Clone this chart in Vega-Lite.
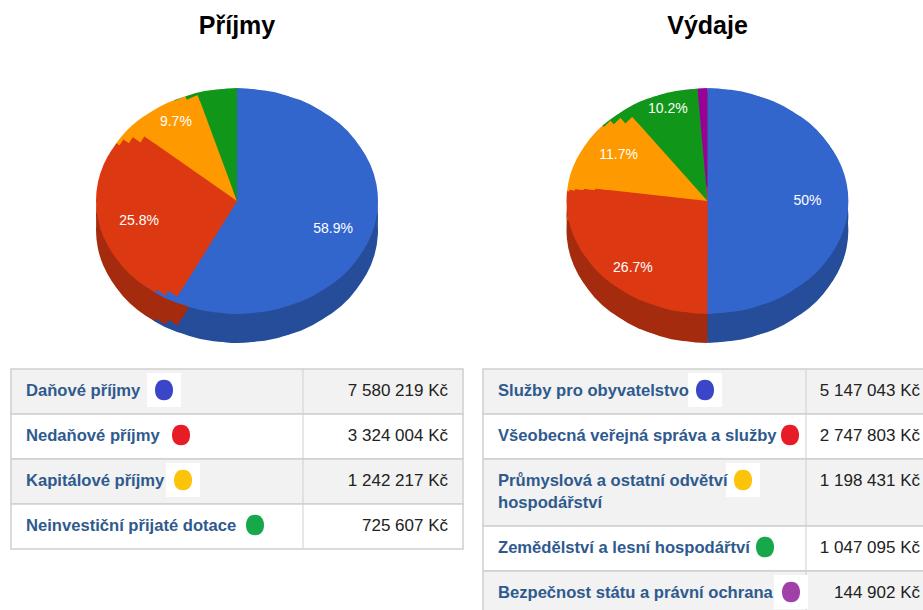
{
"$schema":"https://vega.github.io/schema/vega-lite/v6.json",
"padding":{"left":10,"top":14,"right":0,"bottom":0},
"background":"white",
"config":{"view":{"stroke":null},"title":{"font":"Liberation Sans","fontWeight":"bold","fontSize":25,"color":"#000","anchor":"middle","offset":12}},
"datasets":{
"prijmy":[
{"row":1,"rowEnd":2,"name":"Daňové příjmy","amount":7580219,"amountText":"7 580 219 Kč","share":"58.9%"},
{"row":2,"rowEnd":3,"name":"Nedaňové příjmy","amount":3324004,"amountText":"3 324 004 Kč","share":"25.8%"},
{"row":3,"rowEnd":4,"name":"Kapitálové příjmy","amount":1242217,"amountText":"1 242 217 Kč","share":"9.7%"},
{"row":4,"rowEnd":5,"name":"Neinvestiční přijaté dotace","amount":725607,"amountText":"725 607 Kč","share":""}
],
"vydaje":[
{"row":1,"rowEnd":2,"name":"Služby pro obyvatelstvo","amount":5147043,"amountText":"5 147 043 Kč","share":"50%"},
{"row":2,"rowEnd":3,"name":"Všeobecná veřejná správa a služby","amount":2747803,"amountText":"2 747 803 Kč","share":"26.7%"},
{"row":3,"rowEnd":4,"name":"Průmyslová a ostatní odvětví\nhospodářství","amount":1198431,"amountText":"1 198 431 Kč","share":"11.7%"},
{"row":4,"rowEnd":5,"name":"Zemědělství a lesní hospodářtví","amount":1047095,"amountText":"1 047 095 Kč","share":"10.2%"},
{"row":5,"rowEnd":6,"name":"Bezpečnost státu a právní ochrana","amount":144902,"amountText":"144 902 Kč","share":""}
]},
"spacing":17,
"vconcat":[
{"spacing":18,"hconcat":[
{"title":"Příjmy","width":452,"height":300,"data":{"name":"prijmy"},
"encoding":{"theta":{"field":"amount","type":"quantitative","stack":true},"order":{"field":"row","type":"ordinal"}},
"resolve":{"scale":{"color":"independent"}},
"layer":[
{"encoding":{"color":{"field":"row","type":"nominal","legend":null,"scale":{"domain":[1,2,3,4,5],"range":["#264d99","#a52b0e","#bf7300","#0c7012","#730073"]}}},
"layer":[
{"mark":{"type":"arc","radius":90.6,"xOffset":-50.4,"yOffset":15}},{"mark":{"type":"arc","radius":90.6,"xOffset":50.4,"yOffset":15}},
{"mark":{"type":"arc","radius":101,"xOffset":-37.8,"yOffset":15}},{"mark":{"type":"arc","radius":101,"xOffset":37.8,"yOffset":15}},
{"mark":{"type":"arc","radius":107.8,"xOffset":-25.2,"yOffset":15}},{"mark":{"type":"arc","radius":107.8,"xOffset":25.2,"yOffset":15}},
{"mark":{"type":"arc","radius":111.7,"xOffset":-12.6,"yOffset":15}},{"mark":{"type":"arc","radius":111.7,"xOffset":12.6,"yOffset":15}},
{"mark":{"type":"arc","radius":113,"yOffset":15}},
{"mark":{"type":"arc","radius":90.6,"xOffset":-50.4,"yOffset":29}},{"mark":{"type":"arc","radius":90.6,"xOffset":50.4,"yOffset":29}},
{"mark":{"type":"arc","radius":101,"xOffset":-37.8,"yOffset":29}},{"mark":{"type":"arc","radius":101,"xOffset":37.8,"yOffset":29}},
{"mark":{"type":"arc","radius":107.8,"xOffset":-25.2,"yOffset":29}},{"mark":{"type":"arc","radius":107.8,"xOffset":25.2,"yOffset":29}},
{"mark":{"type":"arc","radius":111.7,"xOffset":-12.6,"yOffset":29}},{"mark":{"type":"arc","radius":111.7,"xOffset":12.6,"yOffset":29}},
{"mark":{"type":"arc","radius":113,"yOffset":29}}
]},
{"encoding":{"color":{"field":"row","type":"nominal","legend":null,"scale":{"domain":[1,2,3,4,5],"range":["#3366cc","#dc3912","#ff9900","#109618","#990099"]}}},
"layer":[
{"mark":{"type":"arc","radius":90.6,"xOffset":-50.4}},{"mark":{"type":"arc","radius":90.6,"xOffset":50.4}},
{"mark":{"type":"arc","radius":101,"xOffset":-37.8}},{"mark":{"type":"arc","radius":101,"xOffset":37.8}},
{"mark":{"type":"arc","radius":107.8,"xOffset":-25.2}},{"mark":{"type":"arc","radius":107.8,"xOffset":25.2}},
{"mark":{"type":"arc","radius":111.7,"xOffset":-12.6}},{"mark":{"type":"arc","radius":111.7,"xOffset":12.6}},
{"mark":{"type":"arc","radius":113}}
]},
{"mark":{"type":"text","radius":100,"color":"#fff","font":"Liberation Sans","fontSize":14},"encoding":{"text":{"field":"share"}}}
]},
{"title":"Výdaje","width":453,"height":300,"data":{"name":"vydaje"},
"encoding":{"theta":{"field":"amount","type":"quantitative","stack":true},"order":{"field":"row","type":"ordinal"}},
"resolve":{"scale":{"color":"independent"}},
"layer":[
{"encoding":{"color":{"field":"row","type":"nominal","legend":null,"scale":{"domain":[1,2,3,4,5],"range":["#264d99","#a52b0e","#bf7300","#0c7012","#730073"]}}},
"layer":[
{"mark":{"type":"arc","radius":90.6,"xOffset":-50.4,"yOffset":15}},{"mark":{"type":"arc","radius":90.6,"xOffset":50.4,"yOffset":15}},
{"mark":{"type":"arc","radius":101,"xOffset":-37.8,"yOffset":15}},{"mark":{"type":"arc","radius":101,"xOffset":37.8,"yOffset":15}},
{"mark":{"type":"arc","radius":107.8,"xOffset":-25.2,"yOffset":15}},{"mark":{"type":"arc","radius":107.8,"xOffset":25.2,"yOffset":15}},
{"mark":{"type":"arc","radius":111.7,"xOffset":-12.6,"yOffset":15}},{"mark":{"type":"arc","radius":111.7,"xOffset":12.6,"yOffset":15}},
{"mark":{"type":"arc","radius":113,"yOffset":15}},
{"mark":{"type":"arc","radius":90.6,"xOffset":-50.4,"yOffset":29}},{"mark":{"type":"arc","radius":90.6,"xOffset":50.4,"yOffset":29}},
{"mark":{"type":"arc","radius":101,"xOffset":-37.8,"yOffset":29}},{"mark":{"type":"arc","radius":101,"xOffset":37.8,"yOffset":29}},
{"mark":{"type":"arc","radius":107.8,"xOffset":-25.2,"yOffset":29}},{"mark":{"type":"arc","radius":107.8,"xOffset":25.2,"yOffset":29}},
{"mark":{"type":"arc","radius":111.7,"xOffset":-12.6,"yOffset":29}},{"mark":{"type":"arc","radius":111.7,"xOffset":12.6,"yOffset":29}},
{"mark":{"type":"arc","radius":113,"yOffset":29}}
]},
{"encoding":{"color":{"field":"row","type":"nominal","legend":null,"scale":{"domain":[1,2,3,4,5],"range":["#3366cc","#dc3912","#ff9900","#109618","#990099"]}}},
"layer":[
{"mark":{"type":"arc","radius":90.6,"xOffset":-50.4}},{"mark":{"type":"arc","radius":90.6,"xOffset":50.4}},
{"mark":{"type":"arc","radius":101,"xOffset":-37.8}},{"mark":{"type":"arc","radius":101,"xOffset":37.8}},
{"mark":{"type":"arc","radius":107.8,"xOffset":-25.2}},{"mark":{"type":"arc","radius":107.8,"xOffset":25.2}},
{"mark":{"type":"arc","radius":111.7,"xOffset":-12.6}},{"mark":{"type":"arc","radius":111.7,"xOffset":12.6}},
{"mark":{"type":"arc","radius":113}}
]},
{"mark":{"type":"text","radius":100,"color":"#fff","font":"Liberation Sans","fontSize":14},"encoding":{"text":{"field":"share"}}}
]}
]},
{"spacing":18,"hconcat":[
{"width":452,"height":247,"data":{"name":"prijmy"},
"encoding":{"y":{"field":"row","type":"quantitative","axis":null,"scale":{"domain":[1,2,3,4,5],"range":[0,45,90,135,180]}}},
"layer":[
{"mark":{"type":"rect","stroke":"#cfcfcf","strokeWidth":1.5},"encoding":{"y2":{"field":"rowEnd"},"fill":{"condition":{"test":"datum.row % 2 == 1","value":"#f2f2f2"},"value":"#ffffff"}}},
{"mark":{"type":"rule","color":"#cfcfcf","strokeWidth":1},"encoding":{"y2":{"field":"rowEnd"},"x":{"value":292}}},
{"mark":{"type":"square","filled":true,"color":"#ffffff","size":1156,"yOffset":21,"opacity":1},"transform":[{"filter":"datum.row % 2 == 1"}],"encoding":{"x":{"field":"row","type":"quantitative","axis":null,"scale":{"domain":[1,2,3,4],"range":[153,170,172,244]}}}},
{"mark":{"type":"point","filled":true,"opacity":1,"size":324,"yOffset":21,"shape":"M0,-1.15C0.7,-1.15 1,-0.6 1,0C1,0.6 0.7,1.15 0,1.15C-0.7,1.15 -1,0.6 -1,0C-1,-0.6 -0.7,-1.15 0,-1.15Z"},"encoding":{"x":{"field":"row","type":"quantitative","axis":null,"scale":{"domain":[1,2,3,4],"range":[153,170,172,244]}},"color":{"field":"row","type":"nominal","legend":null,"scale":{"domain":[1,2,3,4,5],"range":["#3a45c8","#e81c26","#fdc20a","#16a84a","#a040a8"]}}}},
{"mark":{"type":"text","align":"left","baseline":"top","dy":14,"lineBreak":"\n","lineHeight":22,"font":"Liberation Sans","fontWeight":"bold","fontSize":16.6,"color":"#2f5a8e"},"encoding":{"x":{"value":15},"text":{"field":"name"}}},
{"mark":{"type":"text","align":"right","baseline":"top","dy":14,"font":"Liberation Sans","fontSize":17,"color":"#222"},"encoding":{"x":{"value":437},"text":{"field":"amountText"}}}
]},
{"width":453,"height":247,"data":{"name":"vydaje"},
"encoding":{"y":{"field":"row","type":"quantitative","axis":null,"scale":{"domain":[1,2,3,4,5,6],"range":[0,45,90,157,202,247]}}},
"layer":[
{"mark":{"type":"rect","stroke":"#cfcfcf","strokeWidth":1.5},"encoding":{"y2":{"field":"rowEnd"},"fill":{"condition":{"test":"datum.row % 2 == 1","value":"#f2f2f2"},"value":"#ffffff"}}},
{"mark":{"type":"rule","color":"#cfcfcf","strokeWidth":1},"encoding":{"y2":{"field":"rowEnd"},"x":{"value":323}}},
{"mark":{"type":"square","filled":true,"color":"#ffffff","size":1156,"yOffset":21,"opacity":1},"transform":[{"filter":"datum.row % 2 == 1"}],"encoding":{"x":{"field":"row","type":"quantitative","axis":null,"scale":{"domain":[1,2,3,4,5],"range":[222,307,260,282,308]}}}},
{"mark":{"type":"text","align":"left","baseline":"top","dy":14,"lineBreak":"\n","lineHeight":22,"font":"Liberation Sans","fontWeight":"bold","fontSize":16.6,"color":"#2f5a8e"},"encoding":{"x":{"value":15},"text":{"field":"name"}}},
{"mark":{"type":"point","filled":true,"opacity":1,"size":324,"yOffset":21,"shape":"M0,-1.15C0.7,-1.15 1,-0.6 1,0C1,0.6 0.7,1.15 0,1.15C-0.7,1.15 -1,0.6 -1,0C-1,-0.6 -0.7,-1.15 0,-1.15Z"},"encoding":{"x":{"field":"row","type":"quantitative","axis":null,"scale":{"domain":[1,2,3,4,5],"range":[222,307,260,282,308]}},"color":{"field":"row","type":"nominal","legend":null,"scale":{"domain":[1,2,3,4,5],"range":["#3a45c8","#e81c26","#fdc20a","#16a84a","#a040a8"]}}}},
{"mark":{"type":"text","align":"right","baseline":"top","dy":14,"font":"Liberation Sans","fontSize":17,"color":"#222"},"encoding":{"x":{"value":437},"text":{"field":"amountText"}}}
]}
]}
]}
